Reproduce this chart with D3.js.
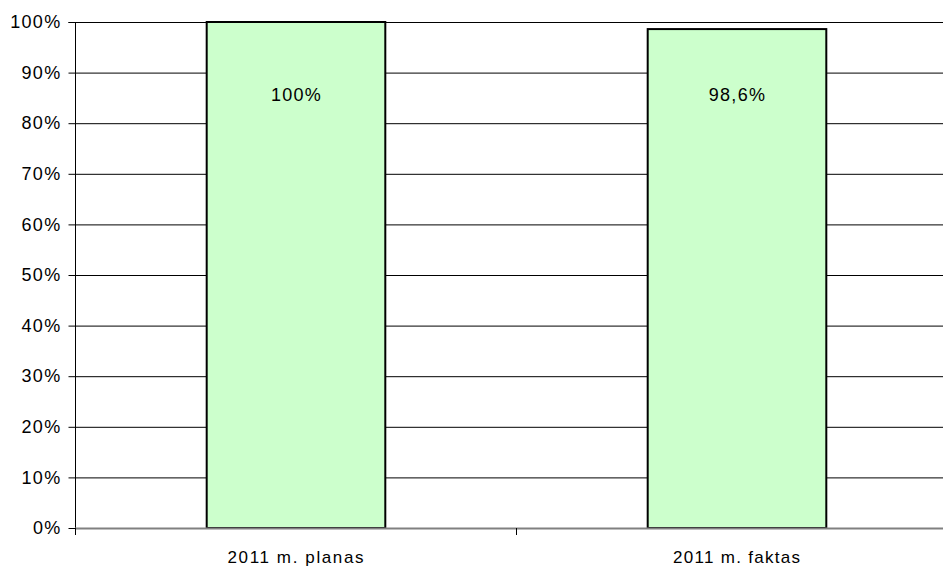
<!DOCTYPE html>
<html>
<head>
<meta charset="utf-8">
<script src="https://cdn.jsdelivr.net/npm/d3@7/dist/d3.min.js"></script>
<style>
  html, body { margin: 0; padding: 0; background: #fff; }
  svg { display: block; }
  text { font-family: "Liberation Sans", Arial, sans-serif; fill: #000; }
</style>
</head>
<body>
<svg id="chart" width="943" height="567"></svg>
<script>
// Plan vs. actual for 2011, as a share of the plan
const categories = ["2011 m. planas", "2011 m. faktas"];
const values = [100, 98.6];
const valueLabels = ["100%", "98,6%"];
const yTicks = [0, 10, 20, 30, 40, 50, 60, 70, 80, 90, 100];
const labelLevel = 85;

const svg = d3.select("#chart");
const plotLeft = 75, plotRight = 957, plotTop = 22, plotBottom = 528;

const x = d3.scaleBand().domain(categories).range([plotLeft, plotRight]).paddingInner(0.595).paddingOuter(0.2975);
const xOuter = d3.scaleBand().domain(categories).range([plotLeft, plotRight]);
const y = d3.scaleLinear().domain([0, 100]).range([plotBottom, plotTop]);

// horizontal gridlines
svg.append("g").selectAll("line").data(yTicks.filter(d => d > 0)).join("line")
  .attr("x1", plotLeft).attr("x2", plotRight)
  .attr("y1", d => y(d) + 0.5).attr("y2", d => y(d) + 0.5)
  .attr("stroke", "#000").attr("stroke-width", 1);

// y axis
const yAxis = svg.append("g").attr("transform", `translate(${plotLeft + 0.5},0)`)
  .call(d3.axisLeft(y).tickValues(yTicks).tickFormat(d => d + "%").tickSize(7).tickPadding(7));
yAxis.select(".domain").attr("stroke", "#000").attr("d", `M-7,${plotTop + 0.5}H0V${plotBottom + 0.5}`);
yAxis.selectAll(".tick line").attr("stroke", "#000");
yAxis.selectAll("text")
  .style("font-size", "18px")
  .style("letter-spacing", "1.3px")
  .style("font-family", "Liberation Sans, Arial, sans-serif");

// bars
svg.append("g").selectAll("rect").data(categories).join("rect")
  .attr("x", (d) => x(d) + 0.5)
  .attr("y", (d, i) => y(values[i]))
  .attr("width", x.bandwidth())
  .attr("height", (d, i) => y(0) - y(values[i]))
  .attr("fill", "#CCFFCC").attr("stroke", "#000").attr("stroke-width", 2);

// x axis baseline and category ticks
svg.append("line").attr("x1", plotLeft).attr("x2", plotRight)
  .attr("y1", plotBottom + 0.5).attr("y2", plotBottom + 0.5)
  .attr("stroke", "#808080").attr("stroke-width", 2);
const boundaries = categories.map(c => xOuter(c)).concat([plotRight]);
svg.append("g").selectAll("line").data(boundaries).join("line")
  .attr("x1", d => Math.round(d) + 0.5).attr("x2", d => Math.round(d) + 0.5)
  .attr("y1", plotBottom).attr("y2", plotBottom + 7)
  .attr("stroke", "#000");

// category labels
svg.append("g").selectAll("text").data(categories).join("text")
  .attr("x", d => x(d) + x.bandwidth() / 2)
  .attr("y", 563)
  .attr("text-anchor", "middle")
  .style("font-size", "17px")
  .attr("textLength", (d, i) => i === 0 ? 136 : 127)
  .attr("lengthAdjust", "spacing")
  .text(d => d);

// value labels
svg.append("g").selectAll("text").data(categories).join("text")
  .attr("x", d => x(d) + x.bandwidth() / 2 + 1)
  .attr("y", y(labelLevel) + 3)
  .attr("text-anchor", "middle")
  .style("font-size", "18px")
  .style("letter-spacing", "1.3px")
  .text((d, i) => valueLabels[i]);
</script>
</body>
</html>
